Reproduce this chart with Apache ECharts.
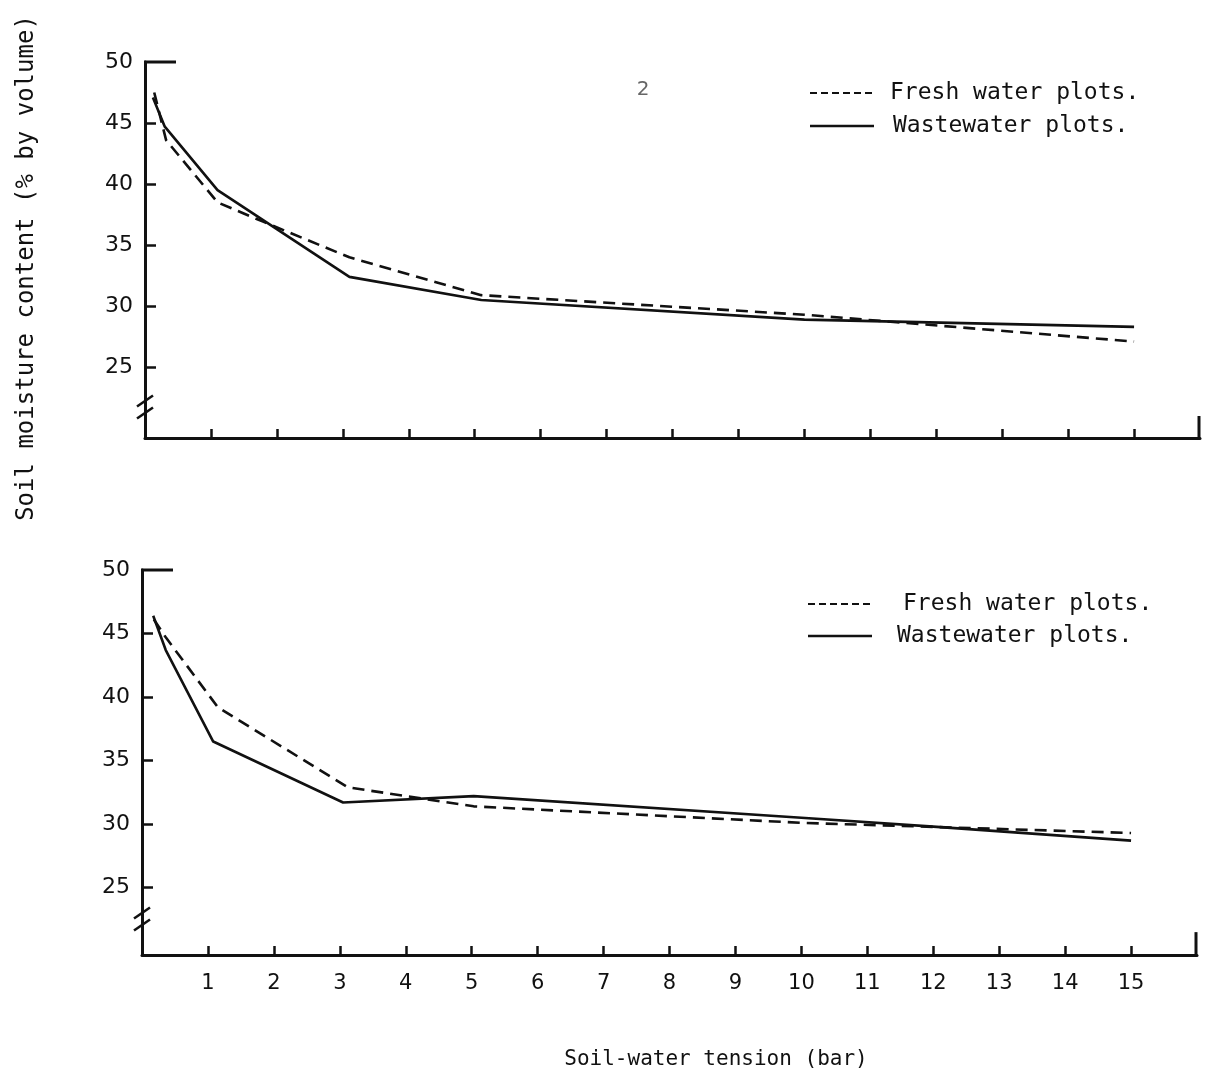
<!DOCTYPE html>
<html>
<head>
<meta charset="utf-8">
<script src="https://cdn.jsdelivr.net/npm/echarts@6/dist/echarts.min.js"></script>
<style>
  html, body { margin: 0; padding: 0; background: #fff; }
  #chart { width: 1209px; height: 1080px; }
</style>
</head>
<body>
<div id="chart"></div>
<script>
// Soil-water tension (bar) tick positions and moisture ticks (% by volume)
const tensionTicks = [1, 2, 3, 4, 5, 6, 7, 8, 9, 10, 11, 12, 13, 14, 15];
const moistureTicks = [25, 30, 35, 40, 45, 50];

// Panel 1: [tension (bar), moisture (%)]
const topFresh = [[0.14, 47.5], [0.32, 43.6], [1.1, 38.5], [1.8, 36.9], [3.1, 34.0], [5.1, 30.9], [10, 29.3], [15, 27.1]];
const topWaste = [[0.12, 47.1], [0.3, 44.7], [1.1, 39.5], [3.1, 32.4], [5.1, 30.5], [10, 28.9], [15, 28.3]];

// Panel 2
const botFresh = [[0.18, 46.1], [0.36, 44.7], [1.15, 39.2], [3.12, 32.9], [5.03, 31.4], [10, 30.1], [15, 29.3]];
const botWaste = [[0.17, 46.4], [0.36, 43.7], [1.08, 36.5], [3.05, 31.7], [5.03, 32.2], [10, 30.5], [12, 29.8], [15, 28.7]];

const seriesNames = ['Fresh water plots.', 'Wastewater plots.'];

const FONT = 'DejaVu Sans';
const MONO = 'DejaVu Sans Mono';
const INK = '#111';

function xAxisFor(gridIndex, showLabels) {
  return {
    type: 'value', gridIndex: gridIndex, min: 0, max: 16, interval: 1,
    splitLine: { show: false },
    axisLine: { show: true, onZero: false, lineStyle: { color: INK, width: 3 } },
    axisTick: { show: true, inside: true, length: 9, customValues: tensionTicks,
                lineStyle: { color: INK, width: 2.5 } },
    axisLabel: { show: showLabels, customValues: tensionTicks, margin: 18,
                 fontFamily: FONT, fontSize: 21, color: INK }
  };
}

function yAxisFor(gridIndex, min) {
  return {
    type: 'value', gridIndex: gridIndex, min: min, max: 50,
    splitLine: { show: false },
    axisLine: { show: true, onZero: false, lineStyle: { color: INK, width: 3 } },
    axisTick: { show: true, inside: true, length: 11, customValues: moistureTicks.slice(0, 5),
                lineStyle: { color: INK, width: 2.5 } },
    axisLabel: { customValues: moistureTicks, margin: 12,
                 fontFamily: FONT, fontSize: 22, color: INK }
  };
}

function lineSeries(name, data, idx, dashed) {
  return {
    name: name, type: 'line', xAxisIndex: idx, yAxisIndex: idx,
    data: data, symbol: 'none', smooth: false, silent: true,
    lineStyle: { color: INK, width: 2.6, type: dashed ? [12, 7] : 'solid' }
  };
}

const chart = echarts.init(document.getElementById('chart'), null, { renderer: 'canvas' });

chart.setOption({
  backgroundColor: '#fff',
  animation: false,
  grid: [
    { left: 145, top: 62, width: 1055, height: 376 },
    { left: 142, top: 570, width: 1055, height: 385 }
  ],
  xAxis: [xAxisFor(0, false), xAxisFor(1, true)],
  yAxis: [yAxisFor(0, 19.2), yAxisFor(1, 19.7)],
  series: [
    lineSeries(seriesNames[0], topFresh, 0, true),
    lineSeries(seriesNames[1], topWaste, 0, false),
    lineSeries(seriesNames[0], botFresh, 1, true),
    lineSeries(seriesNames[1], botWaste, 1, false)
  ]
});

// Decorations placed from the axes' own scales
function px(grid, x, y) { return chart.convertToPixel({ gridIndex: grid }, [x, y]); }

const deco = [];
[[0, 19.2, 21.7], [1, 19.7, 22.5]].forEach(function (d) {
  const g = d[0], ymin = d[1];
  // long top tick at 50
  const a = px(g, 0, 50), b = px(g, 0.47, 50);
  deco.push({ type: 'line', shape: { x1: a[0] - 1, y1: a[1], x2: b[0], y2: b[1] },
              style: { stroke: INK, lineWidth: 3 } });
  // axis break marks
  const c = px(g, 0, d[2]);
  deco.push({ type: 'rect', shape: { x: c[0] - 3, y: c[1] - 5, width: 6, height: 10 },
              style: { fill: '#fff' } });
  deco.push({ type: 'line', shape: { x1: c[0] - 8, y1: c[1] - 1, x2: c[0] + 8, y2: c[1] - 12 },
              style: { stroke: INK, lineWidth: 2.5 } });
  deco.push({ type: 'line', shape: { x1: c[0] - 8, y1: c[1] + 11, x2: c[0] + 8, y2: c[1] + 0 },
              style: { stroke: INK, lineWidth: 2.5 } });
  // closing mark at the right end of the tension axis
  const e0 = px(g, 16, ymin), e1 = px(g, 16, ymin + 1.8);
  deco.push({ type: 'line', shape: { x1: e0[0] - 1, y1: e0[1] + 1, x2: e1[0] - 1, y2: e1[1] },
              style: { stroke: INK, lineWidth: 3 } });
});

// legends
function legend(x, y1, y2, textX1, textX2) {
  deco.push({ type: 'line', shape: { x1: x, y1: y1, x2: x + 64, y2: y1 },
              style: { stroke: INK, lineWidth: 2.2, lineDash: [7, 4] } });
  deco.push({ type: 'line', shape: { x1: x, y1: y2, x2: x + 64, y2: y2 },
              style: { stroke: INK, lineWidth: 2.6 } });
  deco.push({ type: 'text', x: textX1, y: y1, style: { text: seriesNames[0], fill: INK,
              font: '23px "' + MONO + '"', textVerticalAlign: 'middle' } });
  deco.push({ type: 'text', x: textX2, y: y2, style: { text: seriesNames[1], fill: INK,
              font: '23px "' + MONO + '"', textVerticalAlign: 'middle' } });
}
legend(810, 93, 126, 890, 893);
legend(808, 604, 636, 903, 897);

// panel number
deco.push({ type: 'text', x: 643, y: 90, style: { text: '2', fill: '#666',
            font: '20px "' + FONT + '"', textAlign: 'center', textVerticalAlign: 'middle' } });

// axis titles
deco.push({ type: 'text', x: 27, y: 268, rotation: Math.PI / 2,
            style: { text: 'Soil moisture content (% by volume)', fill: INK,
                     font: '24px "' + MONO + '"', textAlign: 'center', textVerticalAlign: 'middle' } });
deco.push({ type: 'text', x: 716, y: 1060,
            style: { text: 'Soil-water tension (bar)', fill: INK,
                     font: '21px "' + MONO + '"', textAlign: 'center', textVerticalAlign: 'middle' } });

chart.setOption({ graphic: { elements: deco } });
</script>
</body>
</html>
